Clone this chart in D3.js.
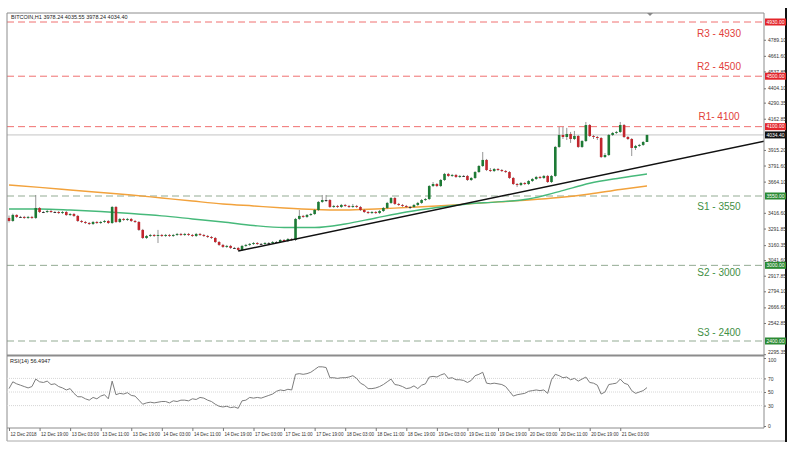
<!DOCTYPE html>
<html>
<head>
<meta charset="utf-8">
<script src="https://cdn.jsdelivr.net/npm/d3@7"></script>
<style>
body { margin: 0; background: #fff; }
svg { display: block; font-family: "Liberation Sans", Arial, sans-serif; }
</style>
</head>
<body>
<svg></svg>
<script>
// BITCOIN H1 candles, 12 Dec 2018 -> 21 Dec 2018 (open = previous close)
var firstOpen = 3376;
var closes = [
  3352, 3400, 3384, 3384, 3376, 3384, 3376, 3455,
  3423, 3423, 3431, 3423, 3423, 3415, 3423, 3399,
  3407, 3392, 3352, 3344, 3336, 3328, 3344, 3336,
  3344, 3352, 3336, 3463, 3344, 3368, 3360, 3368,
  3352, 3344, 3281, 3217, 3233, 3241, 3233, 3241,
  3233, 3241, 3233, 3241, 3249, 3241, 3249, 3241,
  3233, 3249, 3241, 3233, 3225, 3217, 3185, 3162,
  3146, 3154, 3138, 3138, 3122, 3154, 3162, 3170,
  3177, 3170, 3170, 3177, 3177, 3185, 3185, 3201,
  3193, 3209, 3201, 3368, 3392, 3384, 3400, 3407,
  3439, 3503, 3518, 3518, 3463, 3471, 3463, 3479,
  3471, 3463, 3471, 3463, 3439, 3423, 3415, 3423,
  3415, 3431, 3455, 3495, 3534, 3487, 3479, 3471,
  3463, 3463, 3479, 3495, 3518, 3526, 3629, 3645,
  3629, 3677, 3725, 3709, 3717, 3701, 3709, 3709,
  3677, 3693, 3740, 3788, 3836, 3756, 3748, 3764,
  3756, 3748, 3740, 3693, 3645, 3637, 3653, 3645,
  3669, 3685, 3701, 3693, 3709, 3661, 3709, 3939,
  4034, 4018, 4042, 4002, 4026, 3939, 3986, 4113,
  4026, 4018, 4010, 3859, 3875, 4034, 4050, 4058,
  4113, 4018, 4002, 3931, 3947, 3955, 3978.24, 4034.40
];
var highs = [
  3395, 3410, 3405, 3392, 3392, 3392, 3392, 3558,
  3462, 3431, 3440, 3440, 3431, 3431, 3431, 3431,
  3415, 3415, 3400, 3360, 3352, 3344, 3352, 3352,
  3352, 3360, 3360, 3471, 3471, 3376, 3376, 3376,
  3376, 3360, 3352, 3289, 3241, 3249, 3249, 3281,
  3249, 3249, 3249, 3249, 3257, 3257, 3257, 3257,
  3249, 3257, 3257, 3249, 3241, 3233, 3225, 3193,
  3170, 3162, 3162, 3146, 3146, 3162, 3170, 3177,
  3185, 3185, 3177, 3185, 3185, 3193, 3193, 3209,
  3209, 3217, 3217, 3376, 3439, 3400, 3407, 3415,
  3447, 3510, 3558, 3558, 3526, 3479, 3479, 3487,
  3487, 3479, 3487, 3479, 3471, 3447, 3431, 3431,
  3431, 3439, 3463, 3503, 3542, 3542, 3495, 3487,
  3479, 3471, 3487, 3503, 3526, 3534, 3637, 3661,
  3653, 3685, 3733, 3733, 3725, 3725, 3717, 3717,
  3717, 3701, 3748, 3796, 3899, 3844, 3772, 3772,
  3772, 3764, 3756, 3748, 3701, 3653, 3661, 3661,
  3677, 3693, 3709, 3709, 3717, 3717, 3717, 3947,
  4097, 4097, 4090, 4058, 4066, 4034, 3994, 4137,
  4121, 4034, 4026, 4018, 3891, 4042, 4058, 4066,
  4137, 4121, 4026, 4010, 3955, 3963, 3986, 4035.55
];
var lows = [
  3340, 3345, 3375, 3376, 3368, 3368, 3368, 3368,
  3415, 3415, 3415, 3415, 3415, 3407, 3407, 3392,
  3392, 3384, 3344, 3336, 3328, 3320, 3320, 3328,
  3328, 3336, 3328, 3328, 3336, 3336, 3352, 3352,
  3344, 3336, 3273, 3209, 3209, 3225, 3225, 3177,
  3225, 3225, 3225, 3225, 3233, 3233, 3233, 3233,
  3225, 3225, 3233, 3225, 3217, 3209, 3177, 3154,
  3138, 3138, 3130, 3130, 3114, 3114, 3146, 3154,
  3162, 3162, 3162, 3162, 3170, 3170, 3177, 3177,
  3185, 3185, 3193, 3193, 3360, 3376, 3376, 3392,
  3400, 3431, 3495, 3503, 3455, 3455, 3455, 3455,
  3463, 3455, 3455, 3455, 3431, 3415, 3407, 3407,
  3407, 3407, 3423, 3447, 3487, 3479, 3471, 3463,
  3455, 3447, 3455, 3471, 3487, 3510, 3518, 3621,
  3621, 3621, 3669, 3701, 3701, 3693, 3693, 3701,
  3669, 3669, 3685, 3733, 3780, 3748, 3740, 3740,
  3748, 3740, 3733, 3685, 3637, 3621, 3629, 3637,
  3637, 3661, 3677, 3685, 3685, 3653, 3653, 3701,
  3931, 4002, 3994, 3971, 3994, 3931, 3931, 3978,
  4018, 4002, 3994, 3851, 3851, 3867, 4026, 4042,
  4050, 4010, 3994, 3867, 3915, 3939, 3947, 3978.24
];
var rsi = [
  55, 65, 62, 60, 58, 56, 58, 69,
  65, 64, 66, 61, 62, 58, 56, 53,
  55, 48, 43, 43, 40, 38, 42, 40,
  44, 46, 40, 66, 46, 48, 47, 49,
  45, 44, 38, 32, 34, 35, 34, 35,
  36, 36, 34, 37, 36, 38, 38, 37,
  40, 39, 42, 41, 38, 36, 32, 29,
  28, 29, 27, 28, 26, 37, 38, 42,
  41, 42, 41, 43, 45, 47, 51, 53,
  52, 54, 53, 76, 77, 76, 77, 79,
  83, 87, 87, 86, 71, 71, 70, 71,
  71, 72, 74, 70, 63, 60, 55, 55,
  56, 58, 61, 65, 69, 61, 60, 58,
  55, 56, 59, 55, 60, 62, 72, 73,
  72, 75, 77, 70, 71, 68, 68, 67,
  64, 67, 74, 76, 79, 63, 62, 63,
  62, 61, 58, 51, 44, 46, 47, 48,
  51, 52, 53, 52, 53, 48, 68, 76,
  74, 71, 72, 68, 70, 66, 69, 72,
  64, 63, 60, 47, 50, 61, 62, 63,
  69, 63, 61, 52, 48, 50, 52, 56.49
];

// moving averages read every 8 bars
var maIdx = [0, 8, 16, 24, 32, 40, 48, 56, 64, 72, 80, 88, 96, 104, 112, 120, 128, 136, 144, 152, 160, 167];
var maSlow = [3637, 3618, 3598, 3578, 3558, 3534, 3510, 3487, 3471, 3455, 3443, 3439, 3447, 3459, 3471, 3487, 3503, 3518, 3538, 3566, 3602, 3630];
var maFast = [3447, 3447, 3439, 3427, 3411, 3392, 3368, 3344, 3316, 3300, 3300, 3328, 3376, 3423, 3459, 3487, 3503, 3526, 3585, 3651, 3693, 3725];

var trendIdx = [60, 198];
var trendVal = [3114, 3986];

var levelNames = ["R3 - 4930", "R2 - 4500", "R1- 4100", "S1 - 3550", "S2 - 3000", "S3 - 2400"];
var levelValues = [4930, 4500, 4100, 3550, 3000, 2400];
var levelKinds = ["r", "r", "r", "s", "s", "s"];

var priceTicks = [4789.10, 4661.60, 4537.85, 4404.10, 4290.35, 4162.85, 3915.20, 3791.60, 3664.10,
                  3416.60, 3291.85, 3160.35, 3041.60, 2917.85, 2794.10, 2666.60, 2542.85, 2295.35];
var rsiTicks = [100, 70, 50, 30, 0];

var dateLabels = ["12 Dec 2018", "12 Dec 19:00", "13 Dec 03:00", "13 Dec 11:00", "13 Dec 19:00",
                  "14 Dec 03:00", "14 Dec 11:00", "14 Dec 19:00", "17 Dec 03:00", "17 Dec 11:00",
                  "17 Dec 19:00", "18 Dec 03:00", "18 Dec 11:00", "18 Dec 19:00", "19 Dec 03:00",
                  "19 Dec 11:00", "19 Dec 19:00", "20 Dec 03:00", "20 Dec 11:00", "20 Dec 19:00",
                  "21 Dec 03:00"];
var dateIdx = [0, 8, 16, 24, 32, 40, 48, 56, 64, 72, 80, 88, 96, 104, 112, 120, 128, 136, 144, 152, 160];

var title = "BITCOIN,H1  3978.24 4035.55 3978.24 4034.40";
var rsiTitle = "RSI(14) 56.4947";
var lastPrice = 4034.40;

var width = 800;
var height = 455;
var left = 7, right = 764, mainTop = 13, mainBottom = 354, rsiTop = 357, rsiBottom = 428;

var svg = d3.select("svg")
    .attr("width", width)
    .attr("height", height);

var x = d3.scaleLinear().domain([0, 167]).range([9, 647]);
var y = d3.scaleLinear().domain([2400, 4930]).range([341, 22]);
var yRsi = d3.scaleLinear().domain([0, 100]).range([426, 358]);

svg.append("clipPath").attr("id", "clipMain")
    .append("rect").attr("x", left).attr("y", mainTop).attr("width", right - left).attr("height", mainBottom - mainTop);

var candles = closes.map((c, i) => ({
    i: i,
    o: i === 0 ? firstOpen : closes[i - 1],
    h: highs[i],
    l: lows[i],
    c: c
}));

var main = svg.append("g").attr("clip-path", "url(#clipMain)");

// level lines
var levelGp = main.append("g").classed("levels", true);
levelGp.selectAll("line")
    .data(levelValues)
    .enter().append("line")
        .attr("x1", left).attr("x2", right)
        .attr("y1", d => y(d)).attr("y2", d => y(d))
        .attr("stroke", (d, k) => levelKinds[k] === "r" ? "#f07070" : "#93ab93")
        .attr("stroke-width", 1)
        .attr("stroke-dasharray", "7,4");

// current price line
main.append("line")
    .attr("x1", left).attr("x2", right)
    .attr("y1", y(lastPrice)).attr("y2", y(lastPrice))
    .attr("stroke", "#c4c4c4");

var labelDy = [11, -10, -10, 10, 7, -9];
levelGp.selectAll("text")
    .data(levelNames)
    .enter().append("text")
        .attr("x", 719)
        .attr("y", (d, k) => y(levelValues[k]) + labelDy[k])
        .attr("dy", "0.35em")
        .attr("text-anchor", "middle")
        .attr("font-size", 10)
        .attr("fill", (d, k) => levelKinds[k] === "r" ? "#e2413b" : "#3f8f45")
        .text(d => d);

// moving averages
var maLine = d3.line()
    .x(d => x(d[0]))
    .y(d => y(d[1]))
    .curve(d3.curveMonotoneX);

main.append("path")
    .datum(maIdx.map((d, k) => [d, maSlow[k]]))
    .attr("d", maLine)
    .attr("fill", "none")
    .attr("stroke", "#f2a23c")
    .attr("stroke-width", 1.4);

main.append("path")
    .datum(maIdx.map((d, k) => [d, maFast[k]]))
    .attr("d", maLine)
    .attr("fill", "none")
    .attr("stroke", "#46b97a")
    .attr("stroke-width", 1.4);

// candles
var candleGp = main.append("g").classed("candles", true);
candleGp.selectAll("line")
    .data(candles)
    .enter().append("line")
        .attr("x1", d => x(d.i)).attr("x2", d => x(d.i))
        .attr("y1", d => y(d.h)).attr("y2", d => y(d.l))
        .attr("stroke", "#7a7a7a")
        .attr("stroke-width", 0.8);

candleGp.selectAll("rect")
    .data(candles)
    .enter().append("rect")
        .attr("x", d => x(d.i) - 1.3)
        .attr("width", 2.6)
        .attr("y", d => y(Math.max(d.o, d.c)))
        .attr("height", d => Math.max(1, Math.abs(y(d.o) - y(d.c))))
        .attr("fill", d => d.c > d.o ? "#1d7a35" : (d.c < d.o ? "#c0262d" : "#333"));

// trend line
main.append("line")
    .attr("x1", x(trendIdx[0])).attr("y1", y(trendVal[0]))
    .attr("x2", x(trendIdx[1])).attr("y2", y(trendVal[1]))
    .attr("stroke", "#111")
    .attr("stroke-width", 1.5);

// frames
var frame = svg.append("g").attr("stroke", "#8c8c8c").attr("fill", "none");
frame.append("line").attr("x1", left).attr("x2", right).attr("y1", mainTop).attr("y2", mainTop);
frame.append("line").attr("x1", left).attr("x2", left).attr("y1", mainTop).attr("y2", 441);
frame.append("line").attr("x1", right).attr("x2", right).attr("y1", mainTop).attr("y2", rsiBottom);
frame.append("line").attr("x1", left).attr("x2", right).attr("y1", 355.5).attr("y2", 355.5).attr("stroke-width", 2);
frame.append("line").attr("x1", left).attr("x2", right).attr("y1", rsiBottom).attr("y2", rsiBottom);
frame.append("line").attr("x1", left).attr("x2", 787).attr("y1", 441).attr("y2", 441).attr("stroke", "#aaa");
svg.append("line").attr("x1", 786).attr("x2", 786).attr("y1", 8).attr("y2", 442)
    .attr("stroke", "#111").attr("stroke-width", 2);

svg.append("path")
    .attr("d", "M647,13 L653,13 L650,16 Z")
    .attr("fill", "#888");

// texts
svg.append("text").attr("x", 11).attr("y", 19).attr("font-size", 5.5).attr("fill", "#222").text(title);

// price axis
var yAxis = d3.axisRight(y)
    .tickValues(priceTicks)
    .tickFormat(d3.format(".2f"))
    .tickSize(2)
    .tickPadding(2);
var yAxisGp = svg.append("g")
    .attr("transform", "translate(" + right + ",0)")
    .call(yAxis);
yAxisGp.select(".domain").remove();
yAxisGp.selectAll("text").attr("font-size", 5).attr("fill", "#333");
yAxisGp.selectAll("line").attr("stroke", "#777");
// lowest price label sits just above the panel separator
yAxisGp.selectAll(".tick").filter(d => d === 2295.35).select("text").attr("dy", "-0.2em");

// axis boxes for levels and price
var boxes = levelValues.map((v, k) => ({ v: v, fill: levelKinds[k] === "r" ? "#e3262b" : "#2b8a33" }));
boxes.push({ v: lastPrice, fill: "#111" });
var boxGp = svg.append("g");
boxGp.selectAll("rect")
    .data(boxes)
    .enter().append("rect")
        .attr("x", right + 1).attr("width", 21)
        .attr("y", d => y(d.v) - 3.5).attr("height", 7)
        .attr("fill", d => d.fill);
boxGp.selectAll("text")
    .data(boxes)
    .enter().append("text")
        .attr("x", right + 11.5).attr("y", d => y(d.v))
        .attr("dy", "0.35em")
        .attr("text-anchor", "middle")
        .attr("font-size", 5)
        .attr("fill", "#fff")
        .text(d => d3.format(".2f")(d.v));

// RSI panel
var rsiGp = svg.append("g");
rsiGp.selectAll("line.lvl")
    .data([70, 50, 30])
    .enter().append("line")
        .classed("lvl", true)
        .attr("x1", left).attr("x2", right)
        .attr("y1", d => yRsi(d)).attr("y2", d => yRsi(d))
        .attr("stroke", "#d6d6d6")
        .attr("stroke-dasharray", "1,1");

rsiGp.append("path")
    .datum(rsi)
    .attr("d", d3.line().x((d, i) => x(i)).y(d => yRsi(d)))
    .attr("fill", "none")
    .attr("stroke", "#7d7d7d")
    .attr("stroke-width", 1);

svg.append("text").attr("x", 10).attr("y", 363).attr("font-size", 5.5).attr("fill", "#222").text(rsiTitle);

var rsiAxisGp = svg.append("g")
    .attr("transform", "translate(" + right + ",0)")
    .call(d3.axisRight(yRsi).tickValues(rsiTicks).tickSize(2).tickPadding(2));
rsiAxisGp.select(".domain").remove();
rsiAxisGp.selectAll("text").attr("font-size", 5).attr("fill", "#333");
rsiAxisGp.selectAll("line").attr("stroke", "#777");
rsiAxisGp.selectAll(".tick").filter(d => d === 100).select("text").attr("dy", "0.6em");

// date axis
var xAxisGp = svg.append("g")
    .attr("transform", "translate(0," + rsiBottom + ")")
    .call(d3.axisBottom(x).tickValues(dateIdx).tickFormat((d, k) => dateLabels[k]).tickSize(3).tickPadding(2));
xAxisGp.select(".domain").remove();
xAxisGp.selectAll("text")
    .attr("font-size", 4.6)
    .attr("fill", "#333")
    .attr("text-anchor", "start")
    .attr("dx", 1);
xAxisGp.selectAll("line").attr("stroke", "#777");
</script>
</body>
</html>
